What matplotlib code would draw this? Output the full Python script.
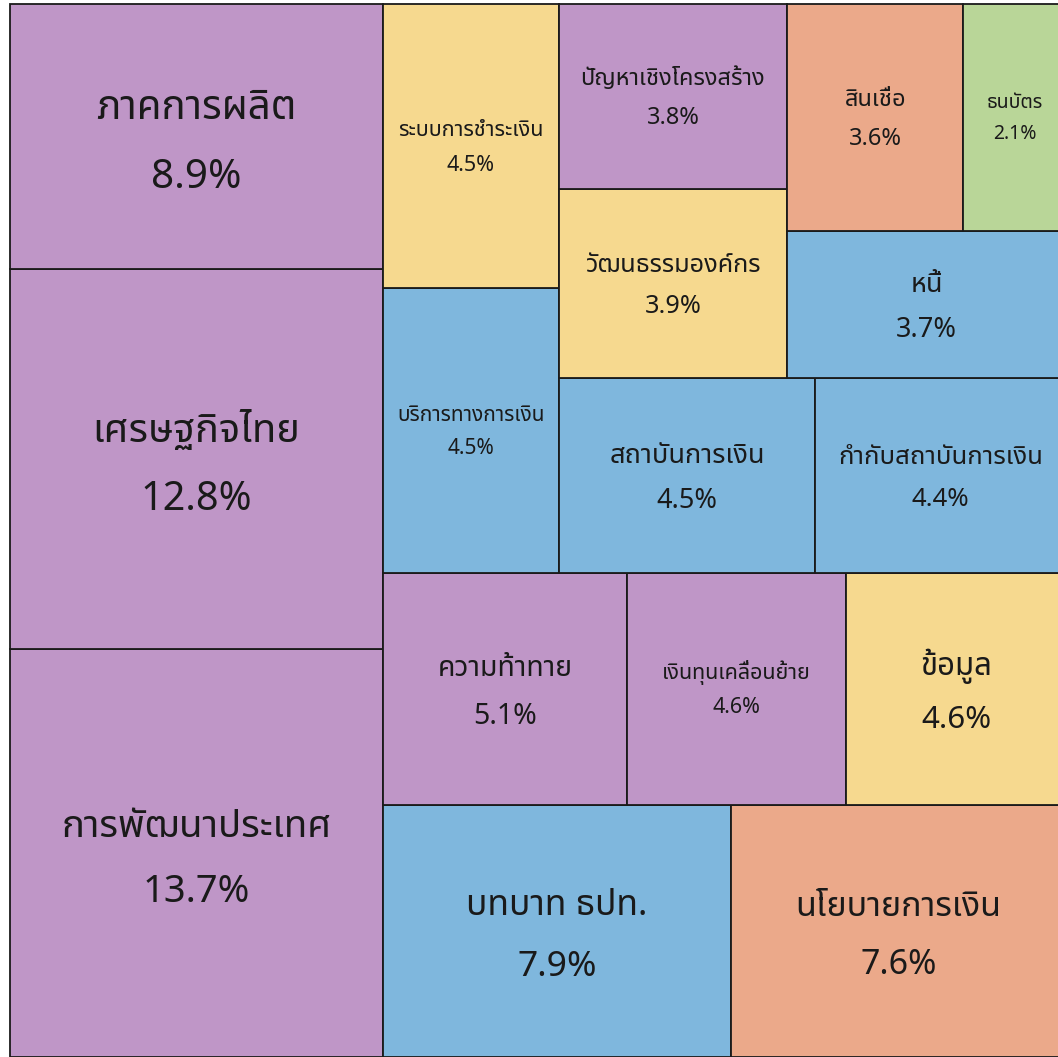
import matplotlib
matplotlib.use("Agg")
import matplotlib.pyplot as plt
import matplotlib.font_manager as fm
from matplotlib.ft2font import FT2Font
from matplotlib.patches import Rectangle

# ---- data ----
labels = ["การพัฒนาประเทศ", "เศรษฐกิจไทย", "ภาคการผลิต", "บทบาท ธปท.", "นโยบายการเงิน",
          "ความท้าทาย", "เงินทุนเคลื่อนย้าย", "ข้อมูล", "บริการทางการเงิน", "ระบบการชำระเงิน",
          "สถาบันการเงิน", "กำกับสถาบันการเงิน", "วัฒนธรรมองค์กร", "ปัญหาเชิงโครงสร้าง",
          "หนี้", "สินเชื่อ", "ธนบัตร"]
values = [13.7, 12.8, 8.9, 7.9, 7.6, 5.1, 4.6, 4.6, 4.5, 4.5, 4.5, 4.4, 3.9, 3.8, 3.7, 3.6, 2.1]
groups = ["purple", "purple", "purple", "blue", "orange", "purple", "purple", "yellow", "blue",
          "yellow", "blue", "blue", "yellow", "purple", "blue", "orange", "green"]
# number of items in each successive strip of the treemap
strip_counts = [3, 2, 3, 2, 2, 2, 1, 1, 1]

# ---- styles ----
palette = {"purple": "#BF96C7", "blue": "#7FB7DD", "orange": "#EBA98A",
           "yellow": "#F6D98F", "green": "#B9D698"}
font_sizes = [27.5, 28.5, 29, 25.5, 24.5, 20.5, 15.5, 22.5, 15, 15.5, 19.5, 18.5, 18.2, 17,
              19.5, 17, 14]

# ---- find a font with Thai glyphs ----
thai_fonts = []
for entry in fm.fontManager.ttflist:
    try:
        cmap = FT2Font(entry.fname).get_charmap()
    except Exception:
        continue
    if 0x0E01 in cmap and 0x0E32 in cmap and 0x0E34 in cmap:
        thai_fonts.append(entry.name)
thai_family = None
for pref in ["Noto Sans Thai", "Kanit", "Prompt", "Sarabun", "Noto Sans Thai UI"]:
    if pref in thai_fonts:
        thai_family = pref
        break
if thai_family is None:
    for n in thai_fonts:
        if "Thai" in n and "Looped" not in n:
            thai_family = n
            break
if thai_family is None and thai_fonts:
    thai_family = thai_fonts[0]
families = ["Noto Sans"] + ([thai_family] if thai_family else []) + ["DejaVu Sans"]
plt.rcParams["font.family"] = families


# ---- strip (squarify-style) layout ----
def layout(sizes, x, y, dx, dy):
    rects = []
    if dx >= dy:
        width = sum(sizes) / dy
        for s in sizes:
            rects.append((x, y, width, s / width))
            y += s / width
    else:
        height = sum(sizes) / dx
        for s in sizes:
            rects.append((x, y, s / height, height))
            x += s / height
    return rects


def leftover(sizes, x, y, dx, dy):
    if dx >= dy:
        w = sum(sizes) / dy
        return x + w, y, dx - w, dy
    h = sum(sizes) / dx
    return x, y + h, dx, dy - h


def strip_treemap(sizes, counts, x, y, dx, dy):
    rects = []
    i = 0
    for c in counts:
        cur = sizes[i:i + c]
        rects += layout(cur, x, y, dx, dy)
        x, y, dx, dy = leftover(cur, x, y, dx, dy)
        i += c
    return rects


W, H = 100.0, 100.0
total = sum(values)
norm = [v * W * H / total for v in values]
rects = strip_treemap(norm, strip_counts, 0, 0, W, H)

FW, FH = 1058, 1057
fig = plt.figure(figsize=(FW / 100, FH / 100), dpi=100)
# the treemap area runs slightly past the right edge of the picture
ax = fig.add_axes([10 / FW, 0, 1056 / FW, 1053 / FH])
ax.set_xlim(0, W)
ax.set_ylim(0, H)
ax.axis("off")

ppu = 1053 / 100.0  # vertical pixels per data unit
for (x, y, dx, dy), lab, val, g, fs in zip(rects, labels, values, groups, font_sizes):
    ax.add_patch(Rectangle((x, y), dx, dy, facecolor=palette[g], edgecolor="#1a1a1a",
                           linewidth=1.3, clip_on=False))
    cx, cy = x + dx / 2, y + dy / 2
    extra = max(fs - 15, 0)
    lab_off = 0.66 * fs - 0.12 * extra
    pct_off = 1.57 * fs + 0.45 * extra
    ax.text(cx, cy + lab_off / ppu, lab, ha="center", va="baseline", fontsize=fs,
            color="#1a1a1a")
    ax.text(cx, cy - pct_off / ppu, f"{val}%", ha="center", va="baseline", fontsize=fs,
            color="#1a1a1a")

fig.savefig("out.png", dpi=100)
